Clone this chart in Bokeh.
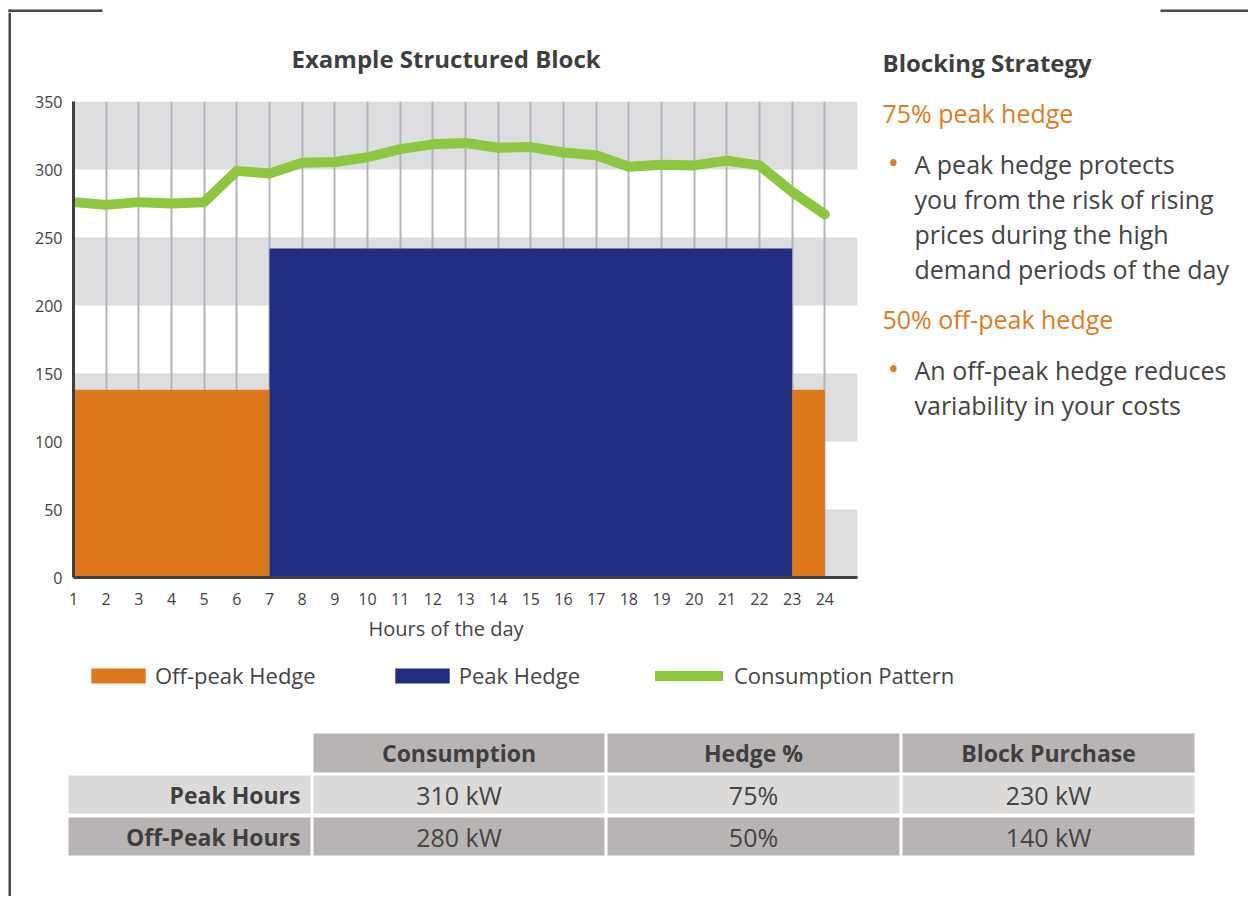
from bokeh.plotting import figure
from bokeh.models import Range1d, FixedTicker, BoxAnnotation, Legend, LegendItem, Title
from bokeh.layouts import row, column
from bokeh.core.properties import value
from bokeh.embed import file_html
from bokeh.resources import INLINE

# ---------------- data ----------------
hours = list(range(1, 25))
hour_labels = [str(h) for h in hours]
consumption = [276, 274, 276, 275, 276, 299, 297, 305, 305.5, 309, 315, 318.5,
               319.5, 316, 316.5, 312.5, 310.5, 302, 303.5, 303, 306.5, 303, 283.5, 267]
# block purchased for each hourly interval starting at hour h (1..23)
interval_start = list(range(1, 24))
offpeak_block = [138] * 6 + [0] * 16 + [138]
peak_block = [0] * 6 + [242] * 16 + [0]
y_ticks = [0, 50, 100, 150, 200, 250, 300, 350]

chart_title = "Example Structured Block"
x_title = "Hours of the day"
legend_labels = ["Off-peak Hedge", "Peak Hedge", "Consumption Pattern"]

table_header = ["Consumption", "Hedge %", "Block Purchase"]
table_rows = ["Peak Hours", "Off-Peak Hours"]
table_consumption = ["310 kW", "280 kW"]
table_hedge = ["75%", "50%"]
table_block = ["230 kW", "140 kW"]

side_title = "Blocking Strategy"
side_heads = ["75% peak hedge", "50% off-peak hedge"]
side_bullets = [["A peak hedge protects", "you from the risk of rising",
                 "prices during the high", "demand periods of the day"],
                ["An off-peak hedge reduces", "variability in your costs"]]

# ---------------- style ----------------
ORANGE = "#de781d"
NAVY = "#212d80"
GREEN = "#8dc63f"
BAND = "#dcdddf"
GRID = "#b4b4b8"
DARK = "#3f3f3f"
TXT = "#444444"
ORANGE_TXT = "#e07b24"
HDR = "#b9b4b4"
LIGHT = "#dcd9d9"
FRAME = "#4a4a4a"
FONT = "Open Sans"

PAGE_W, PAGE_H = 1248, 896
LEFT_STRIP = 11
TOP_STRIP = 12
SPLIT_X = 870
CHART_BOTTOM = 650
LEGEND_BOTTOM = 705
CHART_W = SPLIT_X - LEFT_STRIP


def blank(width, height, x0, x1, y0, y1):
    f = figure(width=width, height=height, output_backend="svg", toolbar_location=None,
               x_range=Range1d(x0, x1), y_range=Range1d(y1, y0),
               x_axis_location=None, y_axis_location=None, min_border=0,
               frame_align=False)
    f.grid.visible = False
    f.outline_line_color = None
    f.background_fill_color = "white"
    f.border_fill_color = "white"
    return f


def put_text(f, x, y, s, size, color=TXT, bold=False, align="left"):
    f.text(x=[x], y=[y], text=[s], text_font=value(FONT), text_font_size=value(size),
           text_font_style=value("bold" if bold else "normal"), text_color=color,
           text_align=align, text_baseline="middle")


def segments(vals):
    segs = []
    i = 0
    while i < len(vals):
        if vals[i] > 0:
            j = i
            while j + 1 < len(vals) and vals[j + 1] == vals[i]:
                j += 1
            segs.append((interval_start[i], interval_start[j] + 1, vals[i]))
            i = j + 1
        else:
            i += 1
    return segs


off = segments(offpeak_block)
pk = segments(peak_block)

# ---------------- chart ----------------
FL, FT, FR, FB = 73, 101, 857, 577  # frame edges in page px
p = figure(width=CHART_W, height=CHART_BOTTOM - TOP_STRIP, output_backend="svg",
           toolbar_location=None, x_range=Range1d(1, 25), y_range=Range1d(0, 350),
           frame_align=False,
           min_border_left=FL - LEFT_STRIP, min_border_right=SPLIT_X - FR,
           min_border_top=FT - TOP_STRIP, min_border_bottom=CHART_BOTTOM - FB)
p.outline_line_color = None
p.background_fill_color = "white"
p.border_fill_color = "white"

p.title.text = chart_title
p.title.align = "left"
p.title.offset = 218
p.title.standoff = 54
p.title.text_font = FONT
p.title.text_font_size = "24px"
p.title.text_font_style = "bold"
p.title.text_color = DARK

for i in range(0, len(y_ticks) - 1, 2):
    p.add_layout(BoxAnnotation(bottom=y_ticks[i], top=y_ticks[i + 1], fill_color=BAND,
                               fill_alpha=1, line_color=None, level="image"))

p.xgrid.ticker = FixedTicker(ticks=hours)
p.xgrid.grid_line_color = GRID
p.xgrid.grid_line_width = 2
p.ygrid.grid_line_color = None

p.quad(left=[s[0] for s in off], right=[s[1] for s in off], top=[s[2] for s in off],
       bottom=0, fill_color=ORANGE, line_color=None)
p.quad(left=[s[0] for s in pk], right=[s[1] for s in pk], top=[s[2] for s in pk],
       bottom=0, fill_color=NAVY, line_color=None)
p.line(hours, consumption, line_color=GREEN, line_width=10,
       line_cap="round", line_join="round")

for ax in (p.xaxis, p.yaxis):
    ax.axis_line_color = DARK
    ax.axis_line_width = 3
    ax.major_tick_line_color = None
    ax.minor_tick_line_color = None
    ax.major_label_text_font = FONT
    ax.major_label_text_font_size = "16px"
    ax.major_label_text_color = DARK
p.xaxis.ticker = FixedTicker(ticks=hours)
p.xaxis.major_label_overrides = {h: l for h, l in zip(hours, hour_labels)}
p.yaxis.ticker = FixedTicker(ticks=y_ticks)
p.xaxis.major_label_standoff = 9
p.yaxis.major_label_standoff = 5

p.add_layout(Title(text=x_title, align="left", offset=295, standoff=11, text_font=FONT,
                   text_font_size="20px", text_font_style="normal", text_color=TXT), "below")

# ---------------- legend strip ----------------
lg = blank(PAGE_W - LEFT_STRIP, LEGEND_BOTTOM - CHART_BOTTOM, LEFT_STRIP, PAGE_W,
           CHART_BOTTOM, LEGEND_BOTTOM)
k_off = lg.quad(left=[s[0] for s in off], right=[s[1] for s in off], top=[s[2] for s in off],
                bottom=0, fill_color=ORANGE, line_color=None, visible=False)
k_pk = lg.quad(left=[s[0] for s in pk], right=[s[1] for s in pk], top=[s[2] for s in pk],
               bottom=0, fill_color=NAVY, line_color=None, visible=False)
k_line = lg.line(hours, consumption, line_color=GREEN, line_width=10,
                 line_cap="round", line_join="round", visible=False)
legend_style = dict(orientation="horizontal", margin=0, padding=0,
                    label_text_font=FONT, label_text_font_size="22px", label_text_color=TXT,
                    border_line_color=None, background_fill_alpha=0, click_policy="none")
legend_a = Legend(items=[LegendItem(label=legend_labels[0], renderers=[k_off]),
                         LegendItem(label=legend_labels[1], renderers=[k_pk])],
                  location=(84 - LEFT_STRIP, 15), spacing=72, glyph_width=68,
                  glyph_height=19, label_standoff=3, **legend_style)
legend_b = Legend(items=[LegendItem(label=legend_labels[2], renderers=[k_line])],
                  location=(655 - LEFT_STRIP, 15), glyph_width=68, glyph_height=19,
                  label_standoff=11, **legend_style)
lg.add_layout(legend_a)
lg.add_layout(legend_b)

# ---------------- side text ----------------
side = blank(PAGE_W - SPLIT_X, CHART_BOTTOM - TOP_STRIP, SPLIT_X, PAGE_W, TOP_STRIP, CHART_BOTTOM)
put_text(side, 882, 62, side_title, "24px", DARK, bold=True)
head_y = [112, 318]
bullet_y0 = [163, 369]
for k in range(2):
    put_text(side, 882, head_y[k], side_heads[k], "25px", ORANGE_TXT)
    put_text(side, 893, bullet_y0[k] - 2, "•", "30px", ORANGE_TXT, align="center")
    for j, line in enumerate(side_bullets[k]):
        put_text(side, 914, bullet_y0[k] + 35 * j, line, "25px")

# ---------------- table ----------------
tbl = blank(PAGE_W - LEFT_STRIP, PAGE_H - LEGEND_BOTTOM, LEFT_STRIP, PAGE_W, LEGEND_BOTTOM, PAGE_H)
col_edges = [(68, 310), (313, 604), (607, 899), (902, 1194)]
hdr_y = (733, 772)
row_ys = [(775, 813), (817, 855)]
row_fill = [LIGHT, HDR]
cl, cr, ct, cb, cc = [], [], [], [], []
for c in range(1, 4):
    cl.append(col_edges[c][0]); cr.append(col_edges[c][1])
    ct.append(hdr_y[0]); cb.append(hdr_y[1]); cc.append(HDR)
for r in range(2):
    for c in range(4):
        cl.append(col_edges[c][0]); cr.append(col_edges[c][1])
        ct.append(row_ys[r][0]); cb.append(row_ys[r][1]); cc.append(row_fill[r])
tbl.quad(left=cl, right=cr, top=ct, bottom=cb, fill_color=cc, line_color=None)

for c, name in enumerate(table_header):
    x0, x1 = col_edges[c + 1]
    put_text(tbl, (x0 + x1) / 2, sum(hdr_y) / 2, name, "23px", DARK, bold=True, align="center")
row_values = [table_consumption, table_hedge, table_block]
for r, rname in enumerate(table_rows):
    ym = sum(row_ys[r]) / 2
    put_text(tbl, 300, ym, rname, "23px", DARK, bold=True, align="right")
    for c in range(3):
        x0, x1 = col_edges[c + 1]
        put_text(tbl, (x0 + x1) / 2, ym, row_values[c][r], "25px", align="center")

# ---------------- page frame strips ----------------
top = blank(PAGE_W, TOP_STRIP, 0, PAGE_W, 0, TOP_STRIP)
top.quad(left=[8, 8, 1160], right=[102, 10.5, PAGE_W], top=[9, 9, 9], bottom=[11.5, TOP_STRIP, 11.5],
         fill_color=FRAME, line_color=None)
lefts = blank(LEFT_STRIP, PAGE_H - TOP_STRIP, 0, LEFT_STRIP, TOP_STRIP, PAGE_H)
lefts.quad(left=[8], right=[10.5], top=[TOP_STRIP], bottom=[PAGE_H], fill_color=FRAME, line_color=None)

layout = column(top, row(lefts, column(row(p, side), lg, tbl)))

open("out.html", "w").write(file_html(layout, INLINE))
